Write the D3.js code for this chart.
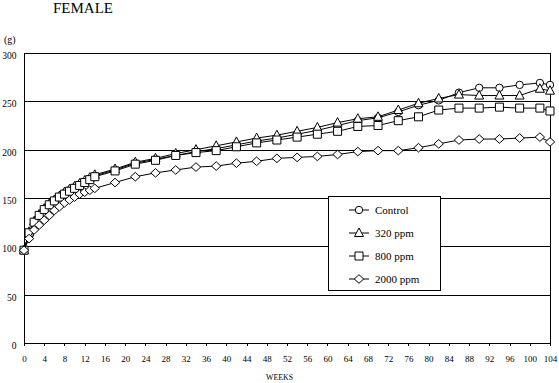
<!DOCTYPE html>
<html>
<head>
<meta charset="utf-8">
<script src="https://cdn.jsdelivr.net/npm/d3@7"></script>
<style>
  html, body { margin: 0; padding: 0; background: #fff; }
  svg { display: block; }
  svg text { font-family: "Liberation Serif", "Times New Roman", serif !important; fill: #000; }
</style>
</head>
<body>
<svg id="chart" width="559" height="383"></svg>
<script>
// ---- data ----
const weeks = [0,1,2,3,4,5,6,7,8,9,10,11,12,13,14,18,22,26,30,34,38,42,46,50,54,58,62,66,70,74,78,82,86,90,94,98,102,104];
const control = [96,114,125,132,138,143,147,151,155,158,161,164,167,170,173,179,186,190,194,198,201,205,209,212,216,220,225,230,233,239,246,251,259,264,264,267,269,267];
const ppm320 = [96,115,126,133,139,144,148,152,156,159,162,165,168,171,174,180,187,191,196,200,204,208,212,215,219,223,228,232,234,241,248,253,257,256,256,256,263,261];
const ppm800 = [96,114,125,132,138,143,147,151,154,157,160,163,166,169,172,178,185,189,194,197,199,203,207,210,213,216,219,224,225,230,234,241,243,243,244,243,243,240];
const ppm2000 = [96,108,117,122,127,132,137,141,145,148,151,154,156,158,160,166,172,176,179,182,183,186,188,191,192,193,195,198,199,199,202,206,210,211,211,212,213,208];
const seriesNames = ["Control","320 ppm","800 ppm","2000 ppm"];
const seriesSymbols = ["circle","triangle","square","diamond"];
const xTicks = d3.range(0, 105, 4);
const yTicks = [0,50,100,150,200,250,300];

const series = [control, ppm320, ppm800, ppm2000].map((vals, i) => ({
  name: seriesNames[i], symbol: seriesSymbols[i],
  points: weeks.map((w, j) => ({ w, v: vals[j] }))
}));

// ---- layout ----
const svg = d3.select("#chart");
const L = 24, R = 550, T = 53, B = 343;
const x = d3.scaleLinear().domain([0, 104]).range([L, R]);
const y = d3.scaleLinear().domain([0, 300]).range([B, T]);

// title + unit
svg.append("text").attr("x", 53).attr("y", 13).attr("font-size", 14)
  .attr("textLength", 60).attr("lengthAdjust", "spacingAndGlyphs").text("FEMALE");
svg.append("text").attr("x", 4).attr("y", 43).attr("font-size", 10).text("(g)");

// gridlines + y labels
const yAxis = svg.append("g").attr("transform", `translate(${L},0)`)
  .call(d3.axisLeft(y).tickValues(yTicks).tickSize(-(R - L)).tickPadding(8));
yAxis.select(".domain").remove();
yAxis.selectAll(".tick line").attr("stroke", "#000").attr("stroke-width", 1).attr("shape-rendering", "crispEdges");
yAxis.selectAll(".tick text").attr("font-size", 9.5)
  .attr("dy", 0).attr("y", 5.5).attr("x", -7.5);

// x axis
const xAxis = svg.append("g").attr("transform", `translate(0,${B})`)
  .call(d3.axisBottom(x).tickValues(xTicks).tickSize(3).tickFormat(d3.format("d")));
xAxis.select(".domain").remove();
xAxis.selectAll(".tick line").attr("stroke", "#000").attr("shape-rendering", "crispEdges");
xAxis.selectAll(".tick text").attr("font-size", 9)
  .attr("dy", 0).attr("y", 18.5);

// frame
svg.append("rect").attr("x", L).attr("y", T).attr("width", R - L).attr("height", B - T)
  .attr("fill", "none").attr("stroke", "#000").attr("shape-rendering", "crispEdges");
svg.append("line").attr("x1", L).attr("x2", L).attr("y1", B).attr("y2", B + 3)
  .attr("stroke", "#000").attr("shape-rendering", "crispEdges");

svg.append("text").attr("x", 266).attr("y", 380).attr("font-size", 9)
  .attr("textLength", 27).attr("lengthAdjust", "spacingAndGlyphs").text("WEEKS");

// marker path generator
function markerPath(sym) {
  switch (sym) {
    case "circle": return d3.symbol().type(d3.symbolCircle).size(Math.PI * 3.7 * 3.7)();
    case "triangle": return "M0,-5L4.5,3.5L-4.5,3.5Z";
    case "square": return "M-4,-4H4V4H-4Z";
    case "diamond": return "M0,-4.3L4.7,0L0,4.3L-4.7,0Z";
  }
}

const line = d3.line().x(d => x(d.w)).y(d => y(d.v));
series.forEach(s => {
  const g = svg.append("g");
  g.append("path").datum(s.points).attr("d", line)
    .attr("fill", "none").attr("stroke", "#000").attr("stroke-width", 1);
  g.selectAll("path.m").data(s.points).join("path").attr("class", "m")
    .attr("transform", d => `translate(${x(d.w)},${y(d.v)})`)
    .attr("d", markerPath(s.symbol))
    .attr("fill", "#fff").attr("stroke", "#000").attr("stroke-width", 1);
});

// legend
const lg = svg.append("g");
lg.append("rect").attr("x", 328.5).attr("y", 196.5).attr("width", 112).attr("height", 94)
  .attr("fill", "#fff").attr("stroke", "#000");
const rowY = d3.scalePoint().domain(seriesNames).range([210, 279]);
series.forEach(s => {
  const cy = rowY(s.name);
  lg.append("line").attr("x1", 349).attr("x2", 369).attr("y1", cy).attr("y2", cy).attr("stroke", "#000");
  lg.append("path").attr("transform", `translate(359,${cy})`).attr("d", markerPath(s.symbol))
    .attr("fill", "#fff").attr("stroke", "#000");
  lg.append("text").attr("x", 375).attr("y", cy + 4).attr("font-size", 11).text(s.name);
});
</script>
</body>
</html>
